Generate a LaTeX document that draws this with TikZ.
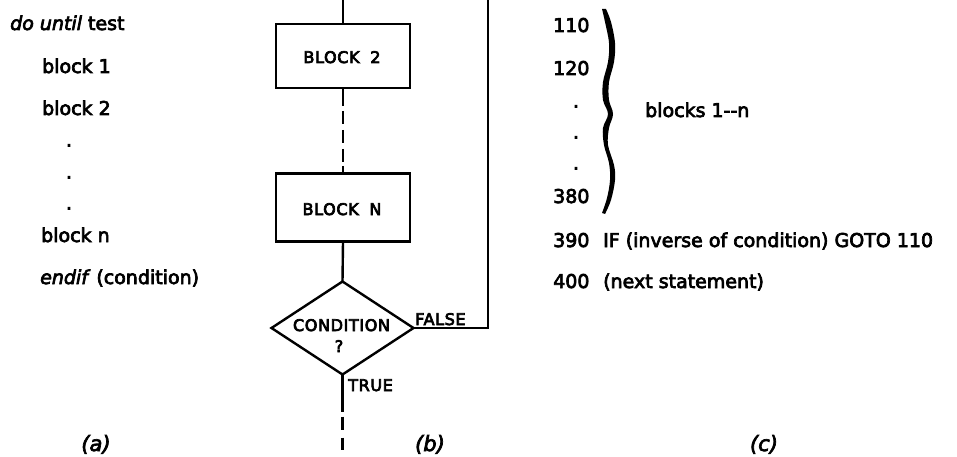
\documentclass[tikz,border=0pt]{standalone}
\usepackage{fontspec}
\setmainfont{DejaVu Sans}
\newfontfamily\chartfont{DejaVu Sans}[LetterSpace=4]
\newcommand{\heavier}{\special{pdf:literal 2 Tr 0.7 w}}
\usetikzlibrary{shapes.geometric}
\begin{document}
\begin{tikzpicture}[x=1pt,y=-1pt,
  txt/.style={anchor=base west, inner sep=0pt, font=\heavier\fontsize{19}{23}\selectfont},
  dotn/.style={anchor=base, inner sep=0pt, font=\heavier\fontsize{19}{23}\selectfont},
  lbl/.style={inner sep=0pt, font=\heavier\chartfont\fontsize{16}{19}\selectfont},
  blockbox/.style={draw, line width=2.6pt, minimum width=134pt, inner sep=0pt, outer sep=0pt},
  decision/.style={draw, diamond, line width=2.4pt, minimum width=142pt, minimum height=93pt, inner sep=0pt, outer sep=0pt},
  conn/.style={line width=2.4pt},
  capt/.style={anchor=base, inner sep=0pt, font=\heavier\itshape\fontsize{21}{24}\selectfont}
]
\useasboundingbox[fill=white] (0,0) rectangle (957,457);

% (a) pseudo-code
\node[txt] (a1) at (10,30) {\textit{do until} test};
\node[txt] (a2) at (42,73) {block 1};
\node[txt] (a3) at (42,115) {block 2};
\node[dotn] (ad1) at (69,146.5) {.};
\node[dotn] (ad2) at (69,178.5) {.};
\node[dotn] (ad3) at (69,209.5) {.};
\node[txt] (a4) at (41,242) {block n};
\node[txt] (a5) at (40,284) {\textit{endif} (condition)};
\node[capt] (capa) at (96,451) {(a)};

% (b) flowchart
\coordinate (top) at (343,0);
\node[blockbox, minimum height=64pt] (b2) at (343,56) {};
\node[lbl, anchor=base] (b2t) at (342,63) {BLOCK\hspace{5pt} 2};
\node[blockbox, minimum height=68pt] (bn) at (343,207.5) {};
\node[lbl, anchor=base] (bnt) at (342,215) {BLOCK\hspace{5pt} N};
\node[decision] (cond) at (342.5,328) {};
\node[lbl, anchor=base] (condt) at (341.5,331) {CONDITION};
\node[lbl, anchor=base] (condq) at (339,352) {?};
\coordinate (ftop) at (488,0);
\coordinate (bot) at (cond.south |- 0,457);

\draw[conn] (top) -- (b2.north);
\draw[conn, dash pattern=on 18pt off 5pt on 13pt off 6pt on 13pt off 6pt on 13pt off 4pt] (b2.south) -- (bn.north);
\draw[conn] (bn.south) -- (cond.north);
\draw[conn] (cond.east) -| (ftop);
\draw[conn, dash pattern=on 37pt off 5pt on 13pt off 8pt on 12pt off 10pt] (cond.south) -- (bot);
\node[lbl, anchor=base west] (false) at (415,325) {FALSE};
\node[lbl, anchor=base west] (true) at (348,391) {TRUE};
\node[capt] (capb) at (430,451) {(b)};

% (c) BASIC listing
\node[txt] (c1) at (553,32) {110};
\node[txt] (c2) at (553,75) {120};
\node[dotn] (cd1) at (576,107.5) {.};
\node[dotn] (cd2) at (576,138.5) {.};
\node[dotn] (cd3) at (576,169.5) {.};
\node[txt] (c3) at (553,203) {380};
\fill plot[smooth, tension=0.6] coordinates {(606,9) (611,22) (615,43) (614,62) (609,82) (609,100) (613,114) (609,128) (608,145) (614,165) (615,180) (611,200) (605,214)}
  -- plot[smooth, tension=0.6] coordinates {(602,213) (607,198) (610,180) (609,163) (604,145) (603,128) (608,114) (603,100) (603,82) (608,62) (609,43) (605,22) (602,9)} -- cycle;
\node[txt] (cb) at (645,117) {blocks 1-{}-n};
\node[txt] (c4) at (553,247) {390};
\node[txt] (c4t) at (603,247) {IF (inverse of condition) GOTO 110};
\node[txt] (c5) at (553,288) {400};
\node[txt] (c5t) at (603,288) {(next statement)};
\node[capt] (capc) at (764,451) {(c)};
\end{tikzpicture}
\end{document}
